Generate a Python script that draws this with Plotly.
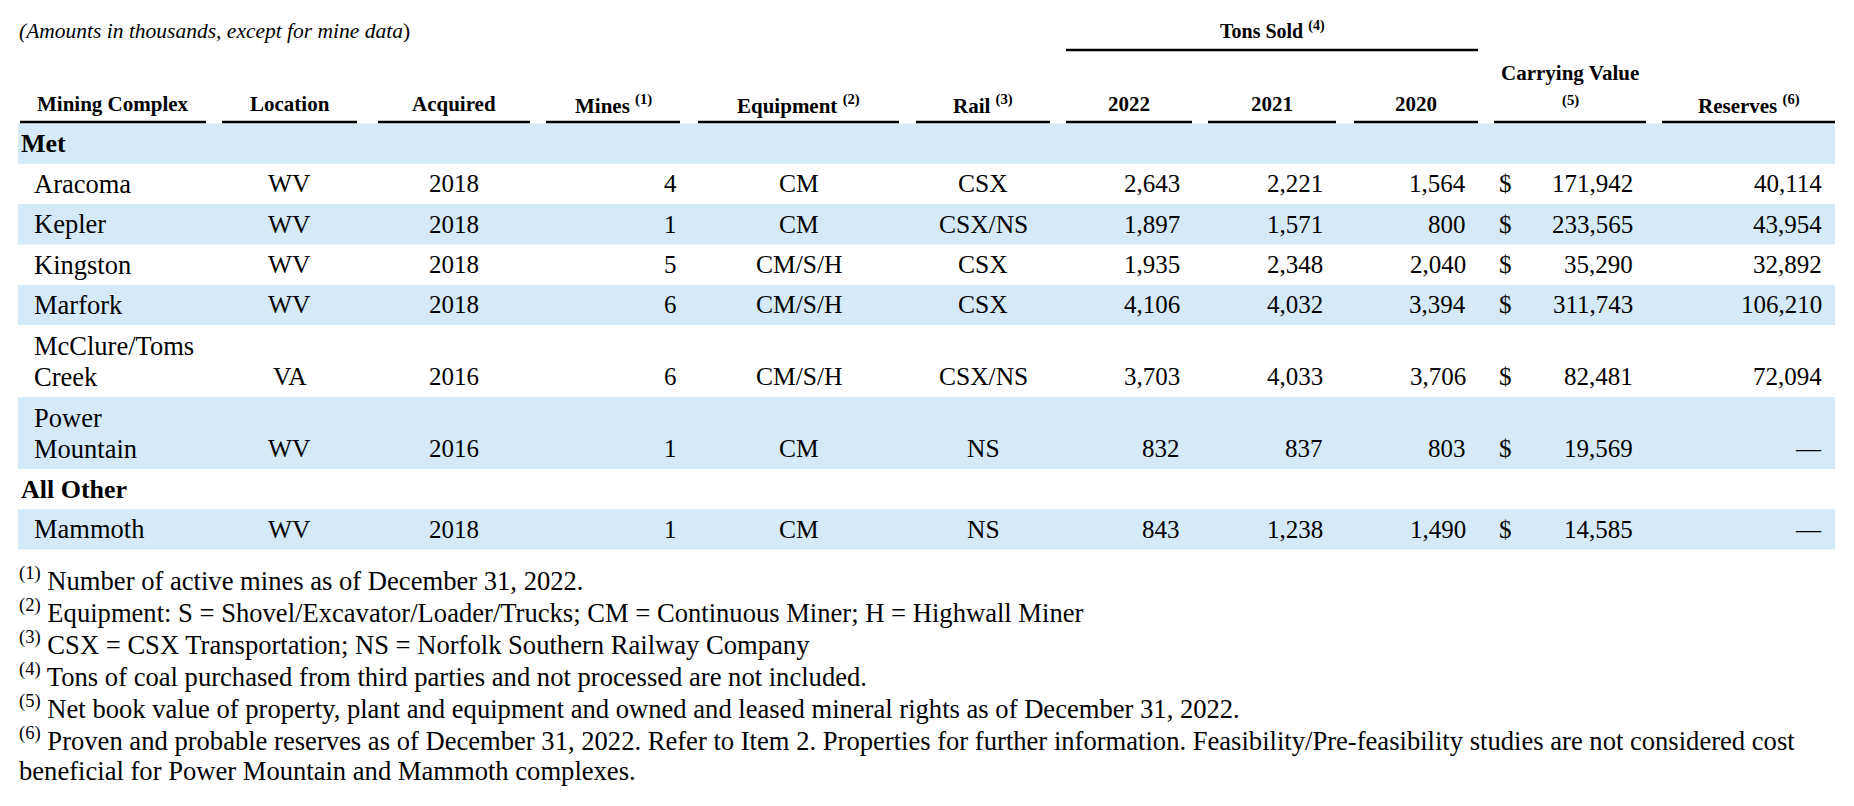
import plotly.graph_objects as go

# Mining complex table
groups = ["Met", "Met", "Met", "Met", "Met", "Met", "All Other"]
complexes = ["Aracoma", "Kepler", "Kingston", "Marfork", "McClure/Toms Creek", "Power Mountain", "Mammoth"]
locations = ["WV", "WV", "WV", "WV", "VA", "WV", "WV"]
acquired = [2018, 2018, 2018, 2018, 2016, 2016, 2018]
mines = [4, 1, 5, 6, 6, 1, 1]
equipment = ["CM", "CM", "CM/S/H", "CM/S/H", "CM/S/H", "CM", "CM"]
rail = ["CSX", "CSX/NS", "CSX", "CSX", "CSX/NS", "NS", "NS"]
tons_2022 = [2643, 1897, 1935, 4106, 3703, 832, 843]
tons_2021 = [2221, 1571, 2348, 4032, 4033, 837, 1238]
tons_2020 = [1564, 800, 2040, 3394, 3706, 803, 1490]
carrying_value = [171942, 233565, 35290, 311743, 82481, 19569, 14585]
reserves = [40114, 43954, 32892, 106210, 72094, None, None]

headers = ["Mining Complex", "Location", "Acquired", "Mines <sup>(1)</sup>", "Equipment <sup>(2)</sup>",
           "Rail <sup>(3)</sup>", "2022", "2021", "2020", "Carrying Value", "Reserves <sup>(6)</sup>"]
footnotes = [
    "<sup>(1)</sup> Number of active mines as of December 31, 2022.",
    "<sup>(2)</sup> Equipment: S = Shovel/Excavator/Loader/Trucks; CM = Continuous Miner; H = Highwall Miner",
    "<sup>(3)</sup> CSX = CSX Transportation; NS = Norfolk Southern Railway Company",
    "<sup>(4)</sup> Tons of coal purchased from third parties and not processed are not included.",
    "<sup>(5)</sup> Net book value of property, plant and equipment and owned and leased mineral rights as of December 31, 2022.",
    "<sup>(6)</sup> Proven and probable reserves as of December 31, 2022. Refer to Item 2. Properties for further information. "
    "Feasibility/Pre-feasibility studies are not considered cost",
    "beneficial for Power Mountain and Mammoth complexes.",
]

W, H = 1854, 806
PAD = 8  # default body margin of the html page
FONT = "Liberation Serif, Times New Roman, serif"
BAND = "#D5EAF8"

# column spans (underline extents) and where each cell is anchored
cols = [(20, 206), (222, 357), (378, 530), (546, 680), (698, 899), (916, 1050),
        (1066, 1192), (1208, 1336), (1354, 1478), (1494, 1646), (1662, 1835)]
mid = [(a + b) / 2 for a, b in cols]

fig = go.Figure()
fig.add_trace(go.Scatter(x=[PAD, W], y=[PAD, H], mode="markers", marker=dict(opacity=0), hoverinfo="skip"))

ann = []


def txt(x, y, s, anchor="center", size=25, bold=False):
    if bold:
        s = "<b>" + s + "</b>"
    ann.append(dict(x=x, y=y, xref="x", yref="y", text=s, showarrow=False, xanchor=anchor,
                    yanchor="middle", font=dict(family=FONT, size=size, color="black")))


# top notes and headers
txt(17, 31, "<i>(Amounts in thousands, except for mine data</i>)", "left", size=21.5)
txt((cols[6][0] + cols[8][1]) / 2, 30, "Tons Sold <sup>(4)</sup>", size=20, bold=True)
fig.add_shape(type="line", x0=cols[6][0], x1=cols[8][1], y0=50, y1=50, line=dict(color="black", width=2.5))
for i, h in enumerate(headers):
    txt(mid[i], 104 if i != 9 else 73, h, size=21, bold=True)
    fig.add_shape(type="line", x0=cols[i][0], x1=cols[i][1], y0=122, y1=122, line=dict(color="black", width=2.5))
txt(mid[9], 100, "<sup>(5)</sup>", size=21, bold=True)

# body rows
ROW, ROW2 = 40.3, 72
NAME, CODE = 26.5, 25.5
y = 123.5
band = True
prev_group = None
for i, name in enumerate(complexes):
    if groups[i] != prev_group:
        if band:
            fig.add_shape(type="rect", x0=18, x1=1835, y0=y, y1=y + ROW, fillcolor=BAND, line_width=0, layer="below")
        txt(19, y + ROW / 2, groups[i], "left", size=26, bold=True)
        y += ROW
        band = not band
        prev_group = groups[i]
    wrap = len(name) > 12
    h = ROW2 if wrap else ROW
    if band:
        fig.add_shape(type="rect", x0=18, x1=1835, y0=y, y1=y + h, fillcolor=BAND, line_width=0, layer="below")
    yc = y + h - ROW / 2
    if wrap:
        a, b = name.rsplit(" ", 1)
        txt(32, y + 21, a, "left", size=NAME)
        txt(32, yc, b, "left", size=NAME)
    else:
        txt(32, yc, name, "left", size=NAME)
    txt(mid[1], yc, locations[i], size=CODE)
    txt(mid[2], yc, str(acquired[i]))
    txt(679, yc, str(mines[i]), "right")
    txt(mid[4], yc, equipment[i], size=CODE)
    txt(mid[5], yc, rail[i], size=CODE)
    txt(1182, yc, f"{tons_2022[i]:,}", "right")
    txt(1325, yc, f"{tons_2021[i]:,}", "right")
    txt(1468, yc, f"{tons_2020[i]:,}", "right")
    txt(1497, yc, "$", "left")
    txt(1635, yc, f"{carrying_value[i]:,}", "right")
    txt(1824, yc, f"{reserves[i]:,}" if reserves[i] is not None else "—", "right")
    y += h
    band = not band

# footnotes
for k, f in enumerate(footnotes):
    txt(17, 579 + 32 * k, f, "left", size=26.6)

fig.update_layout(
    width=W - PAD, height=H - PAD, margin=dict(l=0, r=0, t=0, b=0),
    paper_bgcolor="white", plot_bgcolor="white", showlegend=False,
    xaxis=dict(range=[PAD, W], visible=False, fixedrange=True),
    yaxis=dict(range=[H, PAD], visible=False, fixedrange=True),
    annotations=ann,
)

fig.write_html("out.html")
